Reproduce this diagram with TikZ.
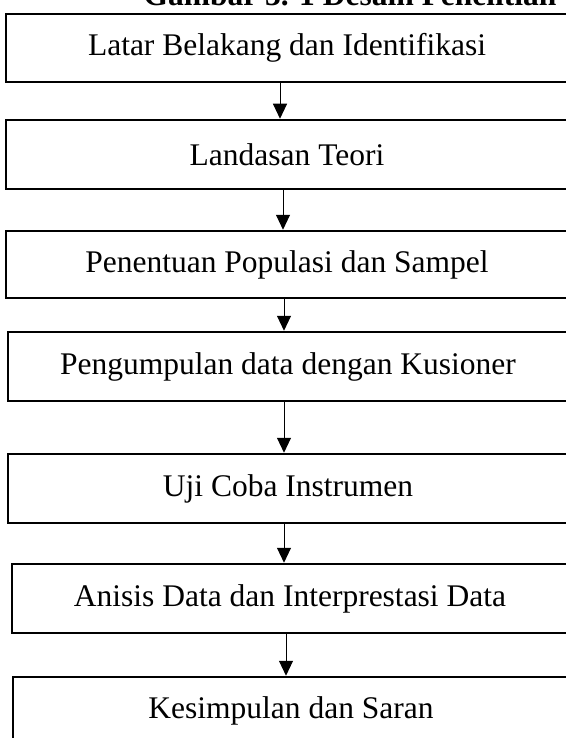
\documentclass[tikz,border=0pt]{standalone}
\usepackage{fontspec}
\setmainfont{Liberation Serif}
\usepackage{tikz}
\usetikzlibrary{positioning,arrows.meta}

\begin{document}
\begin{tikzpicture}[
    x=1pt, y=-1pt,
    stepbox/.style={rectangle, draw, line width=2.5pt, minimum width=562pt,
        inner sep=0pt, font=\fontsize{31.5}{38}\selectfont},
    flow/.style={line width=0.9pt, -{Triangle[length=15pt,width=14pt]}}
]
\useasboundingbox (0,0) rectangle (565,738);

% Title (cut off at the top)
\node[anchor=base, font=\fontsize{31.5}{38}\selectfont\bfseries] (title) at (350,6) {Gambar 3. 1 Desain Penelitian};

% Steps
\node[stepbox, minimum height=68pt] (latar) at (287,48) {Latar Belakang dan Identifikasi};
\node[stepbox, minimum height=69pt] (teori) at (287,154.5) {Landasan Teori};
\node[stepbox, minimum height=67pt] (populasi) at (287,264.5) {Penentuan Populasi dan Sampel};
\node[stepbox, minimum height=69pt, minimum width=560pt] (kuesioner) at (288,366.5) {Pengumpulan data dengan Kusioner};
\node[stepbox, minimum height=69pt, minimum width=560pt] (ujicoba) at (288,488.5) {Uji Coba Instrumen};
\node[stepbox, minimum height=69pt, minimum width=556pt] (analisis) at (290,598.5) {Anisis Data dan Interprestasi Data};
\node[stepbox, minimum height=68pt, minimum width=556pt] (simpulan) at (291,711) {Kesimpulan dan Saran};

% Arrows
\draw[flow] ([xshift=-7pt]latar.south) -- ([xshift=-7pt]teori.north);
\draw[flow] ([xshift=-4pt]teori.south) -- ([xshift=-4pt]populasi.north);
\draw[flow] ([xshift=-3pt]populasi.south) -- ([xshift=-3pt]kuesioner.north-|populasi.south);
\draw[flow] ([xshift=-4pt]kuesioner.south) -- ([xshift=-4pt]ujicoba.north);
\draw[flow] ([xshift=-4pt]ujicoba.south) -- ([xshift=-4pt]analisis.north-|ujicoba.south);
\draw[flow] ([xshift=-4pt]analisis.south) -- ([xshift=-4pt]simpulan.north-|analisis.south);

\end{tikzpicture}
\end{document}
